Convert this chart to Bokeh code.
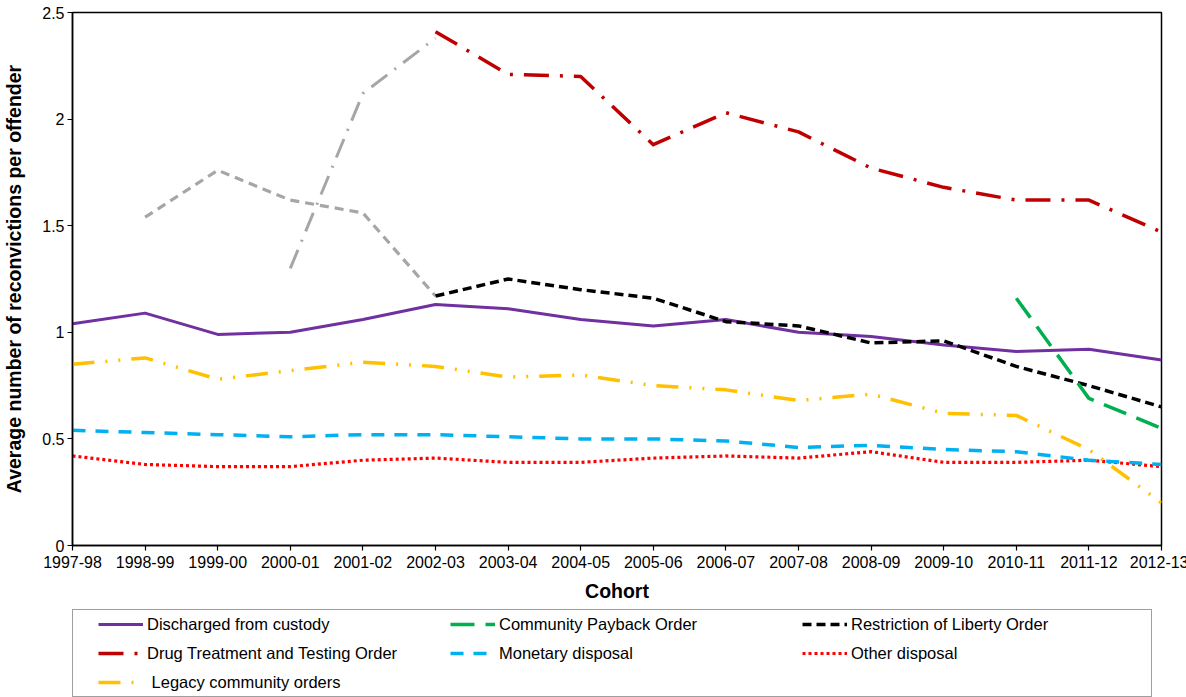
import math
from bokeh.plotting import figure
from bokeh.layouts import column
from bokeh.models import (Range1d, FixedTicker, CustomJSTickFormatter, Legend, LegendItem,
                          ColumnDataSource)
from bokeh.embed import file_html
from bokeh.resources import INLINE

cohorts = ["1997-98", "1998-99", "1999-00", "2000-01", "2001-02", "2002-03", "2003-04", "2004-05",
           "2005-06", "2006-07", "2007-08", "2008-09", "2009-10", "2010-11", "2011-12", "2012-13"]

discharged = [1.04, 1.09, 0.99, 1.00, 1.06, 1.13, 1.11, 1.06, 1.03, 1.06, 1.00, 0.98, 0.94, 0.91, 0.92, 0.87]
cpo        = [None] * 13 + [1.16, 0.69, 0.55]
rlo        = [None] * 5 + [1.17, 1.25, 1.20, 1.16, 1.05, 1.03, 0.95, 0.96, 0.84, 0.75, 0.65]
dtto       = [None] * 5 + [2.41, 2.21, 2.20, 1.88, 2.03, 1.94, 1.77, 1.68, 1.62, 1.62, 1.47]
monetary   = [0.54, 0.53, 0.52, 0.51, 0.52, 0.52, 0.51, 0.50, 0.50, 0.49, 0.46, 0.47, 0.45, 0.44, 0.40, 0.38]
other      = [0.42, 0.38, 0.37, 0.37, 0.40, 0.41, 0.39, 0.39, 0.41, 0.42, 0.41, 0.44, 0.39, 0.39, 0.40, 0.37]
legacy     = [0.85, 0.88, 0.78, 0.82, 0.86, 0.84, 0.79, 0.80, 0.75, 0.73, 0.68, 0.71, 0.62, 0.61, 0.45, 0.20]
rlo_early  = [None, 1.54, 1.76, 1.62, 1.56, 1.17] + [None] * 10
dtto_early = [None, None, None, 1.30, 2.12, 2.38] + [None] * 10

y_ticks = [0, 0.5, 1, 1.5, 2, 2.5]

FONT = "Liberation Sans"

p = figure(frame_width=1089, frame_height=533, output_backend="svg", toolbar_location=None,
           x_range=Range1d(0, 15), y_range=Range1d(0, 2.5),
           min_border_left=70, min_border_right=27, min_border_top=12, min_border_bottom=62)
p.grid.visible = False
p.outline_line_color = "black"
p.outline_line_width = 1.5
p.background_fill_color = "white"
p.border_fill_color = "white"

# legend strip: same series drawn outside its visible range, only its legend shows
q = figure(width=1186, height=90, output_backend="svg", toolbar_location=None,
           x_range=Range1d(100, 200), y_range=Range1d(100, 200),
           x_axis_location=None, y_axis_location=None,
           min_border_left=0, min_border_right=0, min_border_top=0, min_border_bottom=0)
q.grid.visible = False
q.outline_line_color = None
q.background_fill_color = "white"
q.border_fill_color = "white"

xs = list(range(len(cohorts)))

def vals(v):
    return [float("nan") if a is None else a for a in v]

def add(values, color, width, dash, cap="butt"):
    src = ColumnDataSource(dict(x=xs, y=vals(values)))
    kw = dict(source=src, line_color=color, line_width=width,
              line_dash=dash, line_cap=cap, line_join="round")
    return p.line("x", "y", **kw), q.line("x", "y", **kw)

add(rlo_early, "#A6A6A6", 3.2, "9 6")
add(dtto_early, "#A6A6A6", 3.0, "20 9 2 9")
r_other = add(other, "#FF0000", 3.2, "3 3")[1]
r_mon = add(monetary, "#00B0F0", 3.5, "13 10")[1]
r_leg = add(legacy, "#FFC000", 3.5, "22 11 2 11 2 11")[1]
r_dis = add(discharged, "#7030A0", 3.0, "solid")[1]
r_rlo = add(rlo, "#000000", 3.5, "9 5")[1]
r_cpo = add(cpo, "#00B050", 3.5, "24 11")[1]
r_dtto = add(dtto, "#C00000", 3.5, "25 11 3 11")[1]

# axes
p.xaxis.ticker = FixedTicker(ticks=xs)
p.xaxis.formatter = CustomJSTickFormatter(args=dict(labels=cohorts),
                                          code="return labels[Math.round(tick)]")
p.yaxis.ticker = FixedTicker(ticks=y_ticks)
p.yaxis.formatter = CustomJSTickFormatter(code="return tick.toString()")
for ax in (p.xaxis, p.yaxis):
    ax.axis_line_color = "black"
    ax.axis_line_width = 1.5
    ax.major_tick_line_color = "black"
    ax.major_tick_line_width = 1.2
    ax.major_tick_in = 0
    ax.major_tick_out = 5
    ax.minor_tick_line_color = None
    ax.major_label_text_font = FONT
    ax.major_label_text_font_size = "16px"
    ax.major_label_text_color = "black"
    ax.axis_label_text_font = FONT
    ax.axis_label_text_font_size = "19.5px"
    ax.axis_label_text_font_style = "bold"
    ax.axis_label_text_color = "black"
p.xaxis.axis_label = "Cohort"
p.yaxis.axis_label = "Average number of reconvictions per offender"
p.xaxis.major_label_standoff = 5
p.xaxis.axis_label_standoff = 9
p.yaxis.major_label_standoff = 3
p.yaxis.axis_label_standoff = 14

items = [
    LegendItem(label="Discharged from custody", renderers=[r_dis]),
    LegendItem(label="Community Payback Order", renderers=[r_cpo]),
    LegendItem(label="Restriction of Liberty Order", renderers=[r_rlo]),
    LegendItem(label="Drug Treatment and Testing Order", renderers=[r_dtto]),
    LegendItem(label="Monetary disposal", renderers=[r_mon]),
    LegendItem(label="Other disposal", renderers=[r_other]),
    LegendItem(label=" Legacy community orders", renderers=[r_leg]),
]
legend = Legend(items=items, location=(0, 0), orientation="horizontal", ncols=3,
                padding=2, spacing=5, margin=0, glyph_width=45, glyph_height=24, label_height=24,
                label_width=298, label_standoff=4, border_line_color="#404040",
                border_line_width=1.2, background_fill_alpha=0,
                label_text_font=FONT, label_text_font_size="16.5px",
                label_text_color="black")
try:
    legend.title = " "
    legend.title_location = "left"
    legend.title_text_font_size = "10px"
    legend.title_standoff = 12
except AttributeError:
    legend.title = None
q.add_layout(legend, "center")

layout = column(p, q, spacing=0)
open("out.html", "w").write(file_html(layout, INLINE))
